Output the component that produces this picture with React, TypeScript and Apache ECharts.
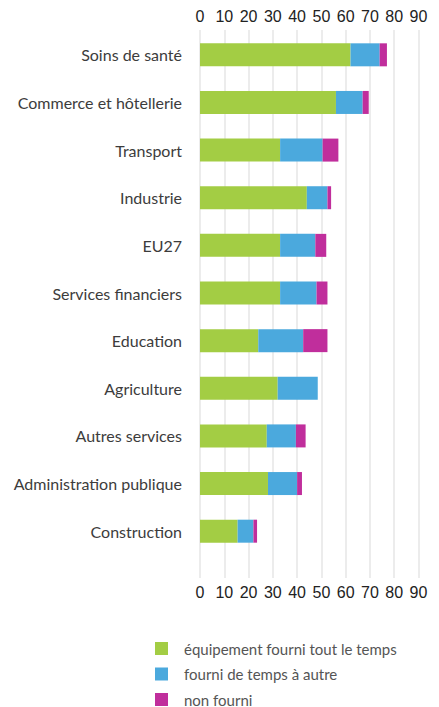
import React, { useEffect, useRef } from "react";
import * as echarts from "echarts";

const categories = [
  "Soins de santé",
  "Commerce et hôtellerie",
  "Transport",
  "Industrie",
  "EU27",
  "Services financiers",
  "Education",
  "Agriculture",
  "Autres services",
  "Administration publique",
  "Construction",
];
const seriesNames = [
  "équipement fourni tout le temps",
  "fourni de temps à autre",
  "non fourni",
];
const toujours = [62, 56, 33, 44, 33, 33, 24, 32, 27.5, 28, 15.5];
const parfois = [12, 11, 17.5, 8.5, 14.5, 15, 18.5, 16.5, 12, 12, 6.5];
const jamais = [3, 2.5, 6.5, 1.5, 4.5, 4.5, 10, 0, 4, 2, 1.5];
const colors = ["#a3cd44", "#4ba9dd", "#c02e9c"];

export default function App() {
  const ref = useRef<HTMLDivElement>(null);
  useEffect(() => {
    if (!ref.current) return;
    const chart = echarts.init(ref.current, null, { renderer: "svg" });
    const valueAxisCommon = {
      type: "value",
      min: 0,
      max: 90,
      interval: 10,
      gridIndex: 1,
      axisLine: { show: false },
      axisTick: { show: false },
      axisLabel: {
        color: "#222",
        fontSize: 16,
        fontFamily: "Liberation Sans",
        margin: 6,
      },
    };
    const legendTops = [636, 661.5, 687];
    chart.setOption({
      animation: false,
      grid: [
        { left: 200, right: 20.5, top: 31, height: 524 },
        { left: 200, right: 20.5, top: 30, bottom: 129 },
      ],
      legend: seriesNames.map((n, i) => ({
        orient: "vertical",
        left: 150,
        top: legendTops[i],
        itemWidth: 13,
        itemHeight: 13,
        icon: "rect",
        textStyle: {
          color: "#555",
          fontSize: 15,
          fontFamily: "Lato",
          padding: [0, 0, 0, 11],
        },
        data: [n],
      })),
      xAxis: [
        {
          type: "value",
          min: 0,
          max: 90,
          gridIndex: 0,
          show: false,
          splitLine: { show: false },
        },
        {
          ...valueAxisCommon,
          position: "top",
          splitLine: { show: true, lineStyle: { color: "#e6e6e6", width: 1.5 } },
        },
        {
          ...valueAxisCommon,
          position: "bottom",
          splitLine: { show: false },
        },
      ],
      yAxis: [
        {
          type: "category",
          gridIndex: 0,
          data: categories,
          inverse: true,
          axisLine: { show: false },
          axisTick: { show: false },
          axisLabel: {
            color: "#3c3c3c",
            fontSize: 16,
            fontFamily: "Lato",
            margin: 18,
          },
        },
        {
          type: "value",
          gridIndex: 1,
          show: false,
        },
      ],
      series: [
        {
          name: seriesNames[0],
          type: "bar",
          stack: "s",
          xAxisIndex: 0,
          yAxisIndex: 0,
          barWidth: 23,
          itemStyle: { color: colors[0] },
          data: toujours,
        },
        {
          name: seriesNames[1],
          type: "bar",
          stack: "s",
          xAxisIndex: 0,
          yAxisIndex: 0,
          barWidth: 23,
          itemStyle: { color: colors[1] },
          data: parfois,
        },
        {
          name: seriesNames[2],
          type: "bar",
          stack: "s",
          xAxisIndex: 0,
          yAxisIndex: 0,
          barWidth: 23,
          itemStyle: { color: colors[2] },
          data: jamais,
        },
      ],
    });
    return () => chart.dispose();
  }, []);
  return (
    <div
      ref={ref}
      style={{ position: "fixed", left: 0, top: 0, width: 439, height: 707, background: "#fff" }}
    />
  );
}
